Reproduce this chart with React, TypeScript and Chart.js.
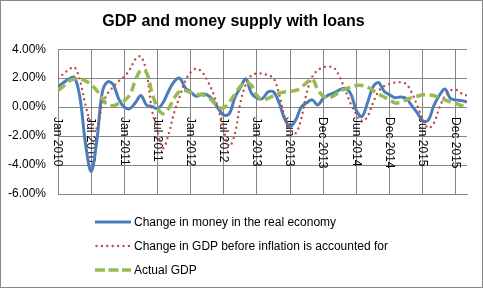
import React, { useEffect, useRef } from "react";
import { Chart, registerables } from "chart.js";

Chart.register(...registerables);

const TITLE = "GDP and money supply with loans";

const xTickLabels = [
  "Jan 2010", "Jul 2010", "Jan 2011", "Jul 2011", "Jan 2012", "Jul 2012",
  "Jan 2013", "Jun 2013", "Dec 2013", "Jun 2014", "Dec 2014", "Jun 2015", "Dec 2015",
];
const POINTS_PER_TICK = 6;

const seriesNames = [
  "Change in money in the real economy",
  "Change in GDP before inflation is accounted for",
  "Actual GDP",
];

// percent values, one per period
const moneyChange = [
  1.42, 1.7, 1.95, 2.05, 0.6, -2.6, -4.45, -2.4, 1.0, 1.75,
  1.55, 0.55, 0.0, -0.1, 0.3, 0.8, 0.15, 0.05, -0.1, 0.3,
  1.1, 1.75, 2.0, 1.35, 1.05, 0.75, 0.9, 0.85, 0.5, -0.1,
  -0.55, -0.45, 0.65, 1.35, 1.95, 0.95, 0.62, 0.6, 1.05, 1.05,
  0.3, -0.8, -1.35, -0.9, 0.0, 0.3, 0.5, 0.15, 0.6, 0.85,
  1.0, 1.2, 1.3, 0.9, -0.25, -0.65, 0.3, 1.4, 1.7, 1.1,
  0.85, 0.65, 0.7, 0.6, 0.1, -0.4, -0.95, -0.9, 0.1, 0.8,
  1.25, 0.6, 0.5, 0.45, 0.35,
];

const gdpBeforeInflation = [
  2.0, 2.3, 2.6, 2.75, 1.8, 0.1, -1.1, -1.45, 0.15, 0.95,
  1.4, 1.8, 2.1, 2.6, 3.3, 3.5, 2.4, -0.2, -1.7, -2.85,
  -1.9, -0.4, 0.7, 1.8, 2.4, 2.65, 2.45, 1.85, 1.05, -0.1,
  -1.6, -2.7, -1.85, 0.3, 1.6, 2.2, 2.32, 2.3, 2.2, 2.0,
  0.9, -0.7, -1.6, -1.8, -0.8, 1.0, 2.1, 2.55, 2.75, 2.8,
  2.7, 2.05, 1.15, 0.2, -0.5, -1.0, -0.65, 0.3, 1.1, 1.45,
  1.6, 1.7, 1.72, 1.6, 1.0, 0.1, -0.85, -1.45, -1.1, -0.05,
  0.75, 1.15, 1.2, 0.95, 0.8,
];

const actualGdp = [
  1.15, 1.45, 1.8, 1.95, 1.95, 1.8, 1.55, 1.15, 0.6, 0.15,
  0.1, 0.25, 0.45, 0.85, 1.85, 2.55, 2.4, 1.0, -0.05, -0.45,
  -0.1, 0.6, 1.1, 1.15, 1.0, 0.9, 0.85, 0.75, 0.4, 0.0,
  -0.05, 0.35, 0.9, 1.45, 1.75, 1.5, 0.8, 0.5, 0.6, 0.8,
  0.95, 1.05, 1.08, 1.15, 1.35, 1.7, 1.95, 1.2, 0.75, 0.65,
  0.8, 1.1, 1.25, 1.4, 1.5, 1.5, 1.38, 1.15, 0.9, 0.7,
  0.5, 0.28, 0.35, 0.5, 0.65, 0.75, 0.85, 0.85, 0.8, 0.6,
  0.5, 0.35, 0.25, 0.1, 0.0,
];

const Y_MIN = -6;
const Y_MAX = 4;
const Y_STEP = 2;

const BLUE = "#4A7EBB";
const RED = "#BE4B48";
const GREEN = "#98B954";
const GRID = "#868686";
const FONT = "'Liberation Sans', Arial, sans-serif";

const toPoints = (arr: number[]) => arr.map((v, i) => ({ x: i, y: v }));

const xLabelPlugin = {
  id: "xLabelsAtZero",
  beforeDatasetsDraw(chart: any) {
    const xs = chart.scales.x;
    const ys = chart.scales.y;
    const ctx = chart.ctx;
    const y0 = ys.getPixelForValue(0);
    ctx.save();
    ctx.font = `12px ${FONT}`;
    ctx.fillStyle = "#000";
    ctx.textAlign = "left";
    ctx.textBaseline = "middle";
    xs.ticks.forEach((t: any) => {
      const label = xTickLabels[Math.round(t.value / POINTS_PER_TICK)];
      if (!label) return;
      const x = xs.getPixelForValue(t.value);
      ctx.save();
      ctx.translate(x - 0.5, y0 + 10);
      ctx.rotate(Math.PI / 2);
      ctx.fillText(label, 0, 0);
      ctx.restore();
    });
    ctx.restore();
  },
};

function LegendRow({ top, kind, color, text }: { top: number; kind: string; color: string; text: string }) {
  let line: any;
  if (kind === "solid") {
    line = <line x1={0} y1={5} x2={36} y2={5} stroke={color} strokeWidth={3} />;
  } else if (kind === "dot") {
    line = (
      <line x1={1.5} y1={5} x2={36} y2={5} stroke={color} strokeWidth={2.4}
        strokeDasharray="0 5.4" strokeLinecap="round" />
    );
  } else {
    line = (
      <line x1={0} y1={5} x2={36} y2={5} stroke={color} strokeWidth={3.5}
        strokeDasharray="10 3.5" />
    );
  }
  return (
    <>
      <svg width={37} height={10} style={{ position: "absolute", left: 95, top: top - 5 }}>
        {line}
      </svg>
      <div
        style={{
          position: "absolute",
          left: 134,
          top: top - 8,
          height: 16,
          lineHeight: "16px",
          fontFamily: FONT,
          fontSize: 12,
          color: "#000",
          whiteSpace: "nowrap",
        }}
      >
        {text}
      </div>
    </>
  );
}

export default function App() {
  const canvasRef = useRef<HTMLCanvasElement | null>(null);

  useEffect(() => {
    document.body.style.margin = "0";
    const canvas = canvasRef.current;
    if (!canvas) return;
    const chart = new Chart(canvas, {
      type: "line",
      data: {
        datasets: [
          {
            label: seriesNames[0],
            data: toPoints(moneyChange),
            borderColor: BLUE,
            borderWidth: 3,
            pointRadius: 0,
            tension: 0.35,
            order: 2,
          },
          {
            label: seriesNames[1],
            data: toPoints(gdpBeforeInflation),
            borderColor: RED,
            borderWidth: 2.4,
            borderDash: [0, 5.4],
            borderCapStyle: "round",
            pointRadius: 0,
            tension: 0.35,
            order: 1,
          },
          {
            label: seriesNames[2],
            data: toPoints(actualGdp),
            borderColor: GREEN,
            borderWidth: 3.5,
            borderDash: [9, 4.5],
            pointRadius: 0,
            tension: 0.35,
            order: 0,
          },
        ],
      },
      options: {
        responsive: false,
        devicePixelRatio: 1,
        animation: false,
        layout: { padding: { left: 0, right: 16, top: 0, bottom: 99 } },
        plugins: {
          legend: { display: false },
          tooltip: { enabled: false },
          title: {
            display: true,
            text: TITLE,
            color: "#000",
            font: { family: FONT, size: 16, weight: "bold", lineHeight: 1.2 },
            padding: { top: 12, bottom: 18 },
          },
        },
        scales: {
          x: {
            type: "linear",
            min: 0,
            max: moneyChange.length - 1,
            ticks: { display: false, stepSize: POINTS_PER_TICK, includeBounds: false },
            grid: { color: GRID, drawTicks: false, lineWidth: 1 },
            border: { color: GRID },
            afterFit: (s: any) => {
              s.height = 0;
            },
          },
          y: {
            min: Y_MIN,
            max: Y_MAX,
            ticks: {
              stepSize: Y_STEP,
              padding: 12,
              color: "#000",
              font: { family: FONT, size: 12 },
              callback: (v: any) => Number(v).toFixed(2) + "%",
            },
            grid: { color: GRID, drawTicks: false, lineWidth: 1 },
            border: { color: GRID },
            afterFit: (s: any) => {
              s.width = 58;
            },
          },
        },
      } as any,
      plugins: [xLabelPlugin],
    });
    return () => chart.destroy();
  }, []);

  return (
    <div
      style={{
        position: "fixed",
        left: 0,
        top: 0,
        width: 483,
        height: 293,
        background: "#fff",
        overflow: "hidden",
      }}
    >
      <canvas ref={canvasRef} width={483} height={293} style={{ display: "block" }} />
      <div
        style={{
          position: "absolute",
          left: 0,
          top: 0,
          width: 483,
          height: 288,
          border: "1px solid #898989",
          boxSizing: "border-box",
          pointerEvents: "none",
        }}
      />
      <LegendRow top={222} kind="solid" color={BLUE} text={seriesNames[0]} />
      <LegendRow top={246} kind="dot" color={RED} text={seriesNames[1]} />
      <LegendRow top={270} kind="dash" color={GREEN} text={seriesNames[2]} />
    </div>
  );
}
